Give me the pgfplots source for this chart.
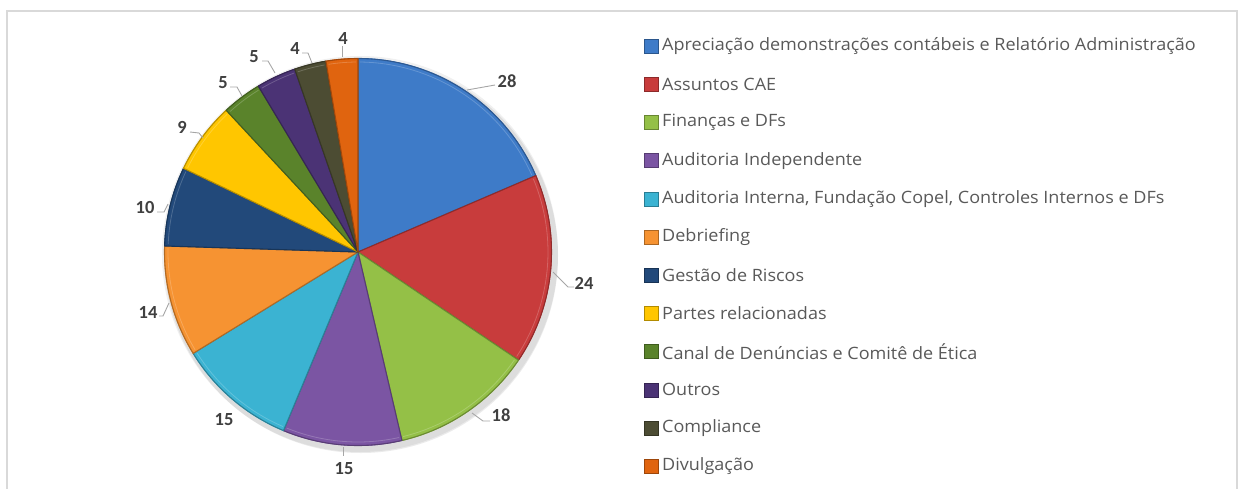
\documentclass[border=0pt]{standalone}
\usepackage{pgfplots}
\usepackage{pgfplotstable}
\pgfplotsset{compat=1.18}
\usepackage{fontspec}
\setmainfont{Open Sans}
\newfontfamily\legfont[FakeStretch=1.06]{Open Sans}
\newfontfamily\numfont{Carlito}
\definecolor{c0}{HTML}{3E7BC8}
\definecolor{c1}{HTML}{C83C3C}
\definecolor{c2}{HTML}{94C047}
\definecolor{c3}{HTML}{7B55A3}
\definecolor{c4}{HTML}{3BB3D2}
\definecolor{c5}{HTML}{F69332}
\definecolor{c6}{HTML}{22497A}
\definecolor{c7}{HTML}{FFC600}
\definecolor{c8}{HTML}{5A832B}
\definecolor{c9}{HTML}{4B3375}
\definecolor{c10}{HTML}{4C4C33}
\definecolor{c11}{HTML}{E0640F}
\definecolor{txt}{HTML}{595959}
\definecolor{lbl}{HTML}{404040}
\definecolor{lead}{HTML}{A6A6A6}
\definecolor{frame}{HTML}{D9D9D9}

% value, label position (pixels, y downward)
\pgfplotstableread{
value lx  ly
28    507 81
24    584 283
18    501 415
15    344 469
15    224 420
14    148 312
10    145 207
9     182 127
5     223 83
5     254 57
4     295 48
4     343 38
}\piedata

\begin{document}
\begin{tikzpicture}
\begin{axis}[
  width=1239pt, height=488pt, scale only axis,
  xmin=0, xmax=1239, ymin=0, ymax=488, y dir=reverse,
  enlargelimits=false, hide axis, clip=false,
]
\pgfplotsextra{%
  % frame
  \draw[frame, line width=1.2pt] (axis cs:7,489) -- (axis cs:7,11) -- (axis cs:1237,11) -- (axis cs:1237,489);%
  % total
  \def\tot{0}%
  \pgfplotsforeachungrouped \i in {0,...,11}{%
    \pgfplotstablegetelem{\i}{value}\of{\piedata}\let\v\pgfplotsretval
    \pgfmathsetmacro\tot{\tot+\v}%
  }%
  % soft shadow
  \fill[black, opacity=0.08] (axis cs:361,256) circle[radius=197pt];%
  \fill[black, opacity=0.06] (axis cs:360,254) circle[radius=198pt];%
  \def\cum{0}%
  \pgfplotsforeachungrouped \i in {0,...,11}{%
    \pgfplotstablegetelem{\i}{value}\of{\piedata}\let\v\pgfplotsretval
    \pgfmathsetmacro\a{90-\cum/\tot*360}%
    \pgfmathsetmacro\cum{\cum+\v}%
    \pgfmathsetmacro\b{90-\cum/\tot*360}%
    \pgfmathsetmacro\aa{\a-0.6}%
    \pgfmathsetmacro\bb{\b+0.6}%
    \fill[c\i] (axis cs:358,252) -- ++(\a:194pt) arc[start angle=\a, end angle=\b, radius=194pt] -- cycle;%
    \draw[c\i!72!black, line width=1.1pt, line join=round] (axis cs:358,252) -- ++(\a:193.5pt) arc[start angle=\a, end angle=\b, radius=193.5pt] -- cycle;%
    \draw[c\i!75!white, line width=0.8pt, opacity=0.8] (axis cs:358,252) ++(\aa:190pt) arc[start angle=\aa, end angle=\bb, radius=190pt];%
    \pgfplotstablegetelem{\i}{lx}\of{\piedata}\let\lx\pgfplotsretval
    \pgfplotstablegetelem{\i}{ly}\of{\piedata}\let\ly\pgfplotsretval
    \node[lbl, font=\numfont\bfseries\fontsize{18.5}{18.5}\selectfont, inner sep=0pt] at (axis cs:\lx,\ly) {\v};%
  }%
  % leader lines
  \begin{scope}[lead, line width=0.9pt]%
    \draw (axis cs:467,90) -- (axis cs:495,85);%
    \draw (axis cs:553,272) -- (axis cs:568,287) -- (axis cs:574,287);%
    \draw (axis cs:472,413) -- (axis cs:483,421) -- (axis cs:490,421);%
    \draw (axis cs:343,447) -- (axis cs:343,456);%
    \draw (axis cs:159,316) -- (axis cs:163,316) -- (axis cs:169,303);%
    \draw (axis cs:157,212) -- (axis cs:164,212) -- (axis cs:168,204);%
    \draw (axis cs:190,132) -- (axis cs:199,133) -- (axis cs:203,138);%
    \draw (axis cs:230,87) -- (axis cs:237,87) -- (axis cs:242,96);%
    \draw (axis cs:262,61) -- (axis cs:268,61) -- (axis cs:275,73);%
    \draw (axis cs:302,53) -- (axis cs:308,53) -- (axis cs:312,63);%
    \draw (axis cs:342,46) -- (axis cs:342,57);%
  \end{scope}%
  % legend
  \foreach \i/\name in {0/{Apreciação demonstrações contábeis e Relatório Administração},
    1/{Assuntos CAE}, 2/{Finanças e DFs}, 3/{Auditoria Independente},
    4/{Auditoria Interna, Fundação Copel, Controles Internos e DFs}, 5/{Debriefing},
    6/{Gestão de Riscos}, 7/{Partes relacionadas}, 8/{Canal de Denúncias e Comitê de Ética},
    9/{Outros}, 10/{Compliance}, 11/{Divulgação}}{%
    \pgfmathsetmacro\yy{46+38.2*\i}%
    \pgfmathsetmacro\ya{\yy-7}%
    \pgfmathsetmacro\yb{\yy+7}%
    \fill[c\i, draw=c\i!70!black, line width=0.6pt] (axis cs:644,\ya) rectangle (axis cs:658,\yb);%
    \node[txt, anchor=west, inner sep=0pt, font=\legfont\fontsize{17}{17}\selectfont] at (axis cs:662,\yy) {\name};%
  }%
}
\end{axis}
\pgfresetboundingbox
\path (0,0) rectangle (1239pt,488pt);
\end{tikzpicture}
\end{document}
